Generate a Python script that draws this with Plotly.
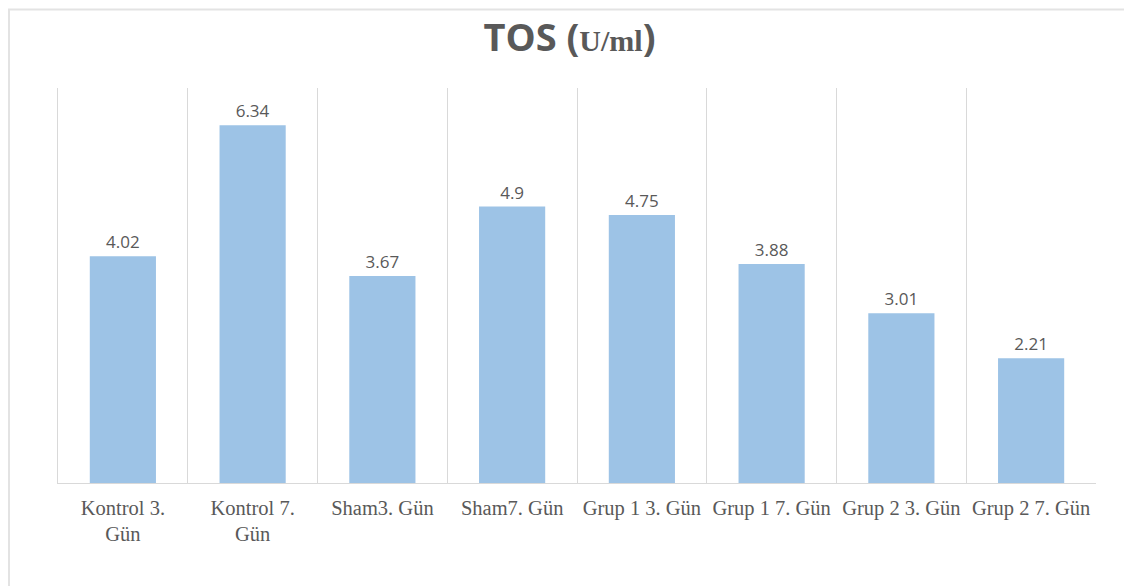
import plotly.graph_objects as go

categories = ["Kontrol 3.<br>Gün", "Kontrol 7.<br>Gün", "Sham3. Gün", "Sham7. Gün",
              "Grup 1 3. Gün", "Grup 1 7. Gün", "Grup 2 3. Gün", "Grup 2 7. Gün"]
values = [4.02, 6.34, 3.67, 4.9, 4.75, 3.88, 3.01, 2.21]
value_labels = ["4.02", "6.34", "3.67", "4.9", "4.75", "3.88", "3.01", "2.21"]

fig = go.Figure()
fig.add_trace(go.Bar(
    x=categories, y=values, text=value_labels, textposition="outside",
    textfont=dict(family="Open Sans, sans-serif", size=17, color="#595959"),
    marker=dict(color="#9DC3E6", line=dict(width=0)),
    cliponaxis=False, hoverinfo="skip",
))

fig.update_layout(
    width=1132, height=586,
    margin=dict(l=50, r=44, t=80, b=111),
    paper_bgcolor="white", plot_bgcolor="white",
    bargap=0.49,
    showlegend=False,
    title=dict(
        text="<b>TOS (<span style='font-family:Liberation Serif, serif;font-size:30px'>U/ml</span>)</b>",
        x=0.496, xanchor="center", y=0.95, yanchor="middle",
        font=dict(family="Open Sans, sans-serif", size=38, color="#595959"),
    ),
    xaxis=dict(
        type="category", tickson="boundaries", showgrid=True, gridcolor="#D9D9D9", gridwidth=1,
        showline=True, linecolor="#D9D9D9", linewidth=1, ticks="", tickangle=0,
        tickfont=dict(family="Liberation Serif, Times New Roman, serif", size=20.5, color="#595959"),
        ticklabelstandoff=6,
    ),
    yaxis=dict(range=[0, 7], showgrid=False, zeroline=False, showticklabels=False,
               showline=True, linecolor="#D9D9D9", linewidth=1),
    shapes=[dict(type="rect", xref="paper", yref="paper", x0=-0.0472, x1=1.2, y0=-0.8, y1=1.199,
                 line=dict(color="#E3E3E3", width=2), fillcolor="rgba(0,0,0,0)", layer="below")],
)

fig.write_html("out.html")
